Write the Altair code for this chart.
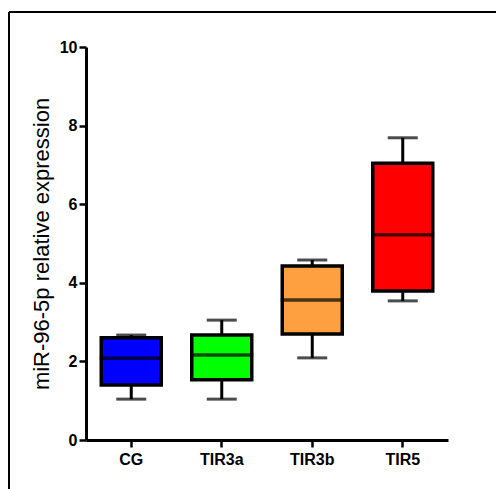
import altair as alt
import pandas as pd

groups = ["CG", "TIR3a", "TIR3b", "TIR5"]
lower = [1.04, 1.04, 2.09, 3.54]
q1 = [1.40, 1.53, 2.70, 3.79]
median = [2.08, 2.16, 3.56, 5.22]
q3 = [2.60, 2.67, 4.43, 7.04]
upper = [2.67, 3.05, 4.58, 7.69]
colors = ["#0000FF", "#00FF00", "#FFA040", "#FF0000"]

df = pd.DataFrame({"group": groups, "lower": lower, "q1": q1, "median": median,
                   "q3": q3, "upper": upper})

W, H = 362, 393
PL, PT = 86, 47
PR, PB = 496 - PL - W, 489 - PT - H

x = alt.X("group:N", sort=groups, title=None,
          scale=alt.Scale(paddingInner=0, paddingOuter=0),
          axis=alt.Axis(labelAngle=0, labelPadding=4, grid=False))
yscale = alt.Scale(domain=[0, 10], nice=False)
yaxis = alt.Axis(values=[0, 2, 4, 6, 8, 10], title="miR-96-5p relative expression",
                 titlePadding=6, labelPadding=2, grid=False)

base = alt.Chart(df)

whisk_hi = base.mark_rule(color="black", strokeWidth=3).encode(
    x=x, y=alt.Y("q3:Q", scale=yscale, axis=yaxis), y2="upper:Q")
whisk_lo = base.mark_rule(color="black", strokeWidth=3).encode(
    x=x, y=alt.Y("lower:Q", scale=yscale, axis=yaxis), y2="q1:Q")
cap_hi = base.mark_tick(color="black", thickness=3, size=30).encode(
    x=x, y=alt.Y("upper:Q", scale=yscale, axis=yaxis))
cap_lo = base.mark_tick(color="black", thickness=3, size=30).encode(
    x=x, y=alt.Y("lower:Q", scale=yscale, axis=yaxis))
box = base.mark_bar(stroke="black", strokeWidth=3.5, size=60).encode(
    x=x, y=alt.Y("q1:Q", scale=yscale, axis=yaxis), y2="q3:Q",
    color=alt.Color("group:N", scale=alt.Scale(domain=groups, range=colors), legend=None))
med = base.mark_tick(color="black", thickness=3.5, size=63).encode(
    x=x, y=alt.Y("median:Q", scale=yscale, axis=yaxis))

frame_top = alt.Chart(df).mark_rule(color="black", strokeWidth=2, clip=False).encode(
    x=alt.value(9 - PL), x2=alt.value(496 - PL + 5), y=alt.value(12 - PT))
frame_left = alt.Chart(df).mark_rule(color="black", strokeWidth=2, clip=False).encode(
    x=alt.value(9 - PL), y=alt.value(12 - PT), y2=alt.value(489 - PT + 5))

chart = alt.layer(whisk_hi, whisk_lo, cap_hi, cap_lo, box, med, frame_top, frame_left).properties(
    width=W, height=H,
    autosize=alt.AutoSizeParams(type="none"),
    padding={"left": PL, "top": PT, "right": PR, "bottom": PB},
    view=alt.ViewBackground(stroke="transparent", strokeWidth=0),
).configure_view(stroke="transparent", strokeWidth=0).configure(background="white").configure_axis(
    grid=False, domainColor="black", domainWidth=3, tickColor="black", tickWidth=2.5,
    tickSize=7, labelFont="Liberation Sans", labelFontSize=16, labelFontWeight="bold",
    labelColor="black", titleFont="Liberation Sans", titleFontSize=22,
    titleFontWeight="normal", titleColor="black")

chart.save("out.html", embed_options={"renderer": "svg", "actions": False})
